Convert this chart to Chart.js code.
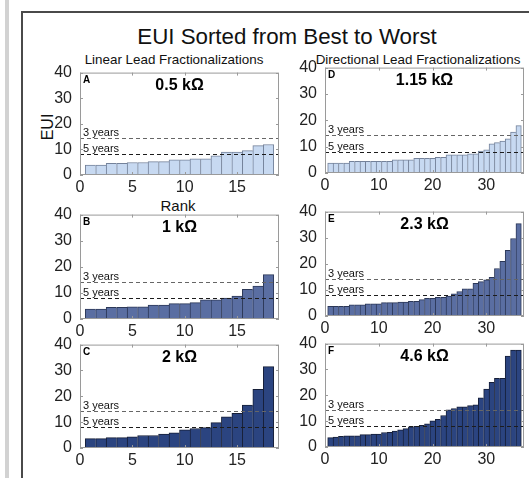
<!DOCTYPE html>
<html>
<head>
<meta charset="utf-8">
<script src="https://cdn.jsdelivr.net/npm/chart.js@4.4.1/dist/chart.umd.min.js"></script>
<style>
  html, body { margin: 0; padding: 0; background: #fff; width: 529px; height: 478px; overflow: hidden;
               font-family: "Liberation Sans", Arial, sans-serif; }
  #stripe { position: absolute; left: 5px; top: 0; width: 4px; height: 478px; background: #d2d2d2; }
  #frame { position: absolute; left: 21px; top: 11px; width: 560px; height: 520px;
           border: 2px solid #4a4a4a; box-sizing: border-box; }
  .txt { position: absolute; white-space: nowrap; color: #111; line-height: 1; }
  canvas { position: absolute; }
</style>
</head>
<body>
<div id="stripe"></div>
<div id="frame"></div>
<div class="txt" id="mainTitle" style="font-size:22.3px; left:287px; top:26px; transform:translateX(-50%);">EUI Sorted from Best to Worst</div>
<div class="txt" style="font-size:13.4px; left:174px; top:53px; transform:translateX(-50%);">Linear Lead Fractionalizations</div>
<div class="txt" style="font-size:13.4px; left:418px; top:53px; transform:translateX(-50%);">Directional Lead Fractionalizations</div>
<div class="txt" style="font-size:16px; left:48px; top:127px; transform:translate(-50%,-50%) rotate(-90deg);">EUI</div>
<div class="txt" style="font-size:15px; left:178px; top:205px; transform:translate(-50%,-50%);">Rank</div>

<script>
// EUI per lead, sorted from best (lowest) to worst (highest)
const euiLinear05 = [3.9, 3.9, 4.6, 4.6, 4.9, 4.9, 5.2, 5.2, 5.9, 5.9, 6.3, 6.3, 7.5, 9.0, 9.0, 9.5, 11.5, 11.9];
const euiLinear1  = [3.8, 3.8, 4.5, 4.5, 4.7, 4.7, 5.3, 5.3, 5.9, 5.9, 6.3, 7.3, 7.3, 8.0, 8.8, 11.4, 12.6, 17.0];
const euiLinear2  = [3.6, 3.6, 4.0, 4.0, 4.35, 4.85, 4.85, 5.4, 5.85, 7.0, 7.55, 7.9, 9.8, 12.1, 13.4, 16.6, 22.7, 31.5];
const euiDir115   = [3.8, 3.8, 3.8, 3.8, 4.4, 4.4, 4.4, 4.4, 4.4, 4.4, 4.4, 4.4, 5.0, 5.0, 5.0, 5.0, 5.6, 5.6,
                     5.6, 5.6, 5.9, 5.9, 6.9, 6.9, 6.9, 6.9, 7.3, 7.3, 8.3, 8.8, 11.1, 11.5, 12.1, 13.0, 15.5, 18.0];
const euiDir23    = [3.7, 3.7, 3.7, 3.7, 4.3, 4.3, 4.3, 4.7, 4.7, 4.7, 5.1, 5.1, 5.1, 5.3, 5.3, 5.6, 5.6, 6.3,
                     6.8, 6.8, 7.2, 7.2, 7.6, 8.5, 9.4, 10.4, 10.4, 12.5, 13.2, 13.9, 14.8, 18.2, 20.9, 25.2, 29.7, 35.4];
const euiDir46    = [3.6, 3.8, 4.1, 4.3, 4.3, 4.3, 4.8, 4.8, 5.0, 5.0, 5.6, 5.7, 6.2, 6.6, 7.1, 7.8, 8.0, 8.4,
                     9.0, 10.1, 10.7, 12.2, 14.4, 14.9, 15.5, 15.5, 16.0, 16.3, 19.0, 22.4, 25.0, 26.6, 26.6, 35.2, 37.5, 37.5];

// battery-life thresholds
const threeYearEUI = 14.3;
const fiveYearEUI  = 8.1;
const thresholdLabels = ['3 years', '5 years'];

const panelLetters = ['A', 'B', 'C', 'D', 'E', 'F'];
const panelTitles  = ['0.5 kΩ', '1 kΩ', '2 kΩ', '1.15 kΩ', '2.3 kΩ', '4.6 kΩ'];
const yTickValues  = [0, 10, 20, 30, 40];

const FONT = '"Liberation Sans", Arial, sans-serif';
const light  = { fill: '#c7d9f1', edge: '#74829a' };
const medium = { fill: '#5a6ea2', edge: '#2c3858' };
const dark   = { fill: '#2b4480', edge: '#161f38' };

const panels = [
  { data: euiLinear05, box: { l: 80,  t: 71,  r: 279, b: 175 }, step: 5,  col: light  },
  { data: euiLinear1,  box: { l: 80,  t: 213, r: 279, b: 319 }, step: 5,  col: medium },
  { data: euiLinear2,  box: { l: 80,  t: 343, r: 279, b: 448 }, step: 5,  col: dark   },
  { data: euiDir115,   box: { l: 325, t: 66,  r: 524, b: 173 }, step: 10, col: light  },
  { data: euiDir23,    box: { l: 325, t: 210, r: 524, b: 316 }, step: 10, col: medium },
  { data: euiDir46,    box: { l: 325, t: 342, r: 524, b: 447 }, step: 10, col: dark   }
];

// Threshold lines, labels, boxed axes with inward ticks, panel letter and title
const panelDecor = {
  id: 'panelDecor',
  afterDatasetsDraw(chart, args, opts) {
    const { ctx, chartArea: a, scales: { x, y } } = chart;
    ctx.save();

    [[threeYearEUI, '#666'], [fiveYearEUI, '#1c1c1c']].forEach(([v, c], k) => {
      const py = Math.round(y.getPixelForValue(v)) + 0.5;
      ctx.strokeStyle = c;
      ctx.lineWidth = 1;
      ctx.setLineDash([4, 3]);
      ctx.beginPath();
      ctx.moveTo(a.left, py);
      ctx.lineTo(a.right, py);
      ctx.stroke();
      ctx.setLineDash([]);
      ctx.fillStyle = '#111';
      ctx.font = '11px ' + FONT;
      ctx.textAlign = 'left';
      ctx.textBaseline = 'alphabetic';
      ctx.fillText(thresholdLabels[k], a.left + 3, py - 3);
    });

    ctx.strokeStyle = '#9a9a9a';
    ctx.lineWidth = 1;
    ctx.strokeRect(a.left + 0.5, a.top + 0.5, a.right - a.left - 1, a.bottom - a.top - 1);
    ctx.beginPath();
    x.ticks.forEach(t => {
      const px = Math.round(x.getPixelForValue(t.value)) + 0.5;
      ctx.moveTo(px, a.bottom); ctx.lineTo(px, a.bottom - 3);
      ctx.moveTo(px, a.top);    ctx.lineTo(px, a.top + 3);
    });
    y.ticks.forEach(t => {
      const py = Math.round(y.getPixelForValue(t.value)) + 0.5;
      ctx.moveTo(a.left, py);  ctx.lineTo(a.left + 3, py);
      ctx.moveTo(a.right, py); ctx.lineTo(a.right - 3, py);
    });
    ctx.stroke();

    ctx.fillStyle = '#000';
    ctx.textAlign = 'left';
    ctx.textBaseline = 'top';
    ctx.font = 'bold 10px ' + FONT;
    ctx.fillText(opts.letter, a.left + 3, a.top + 3);

    ctx.textAlign = 'center';
    ctx.textBaseline = 'middle';
    ctx.font = 'bold 16px ' + FONT;
    ctx.fillText(opts.title, (a.left + a.right) / 2, a.top + 13);
    ctx.restore();
  }
};

const padT = 16, padR = 6, yAxisW = 50, xAxisH = 30;

panels.forEach((p, i) => {
  const n = p.data.length;
  const w = (p.box.r - p.box.l) + yAxisW + padR;
  const h = (p.box.b - p.box.t) + padT + xAxisH;
  const cv = document.createElement('canvas');
  cv.width = w; cv.height = h;
  cv.style.left = (p.box.l - yAxisW) + 'px';
  cv.style.top = (p.box.t - padT) + 'px';
  cv.style.width = w + 'px';
  cv.style.height = h + 'px';
  document.body.appendChild(cv);

  new Chart(cv, {
    type: 'bar',
    data: {
      datasets: [{
        data: p.data.map((v, k) => ({ x: k + 1, y: v })),
        backgroundColor: p.col.fill,
        borderColor: p.col.edge,
        borderWidth: c => c.dataIndex === n - 1
          ? { top: 1, left: 1, right: 1, bottom: 0 }
          : { top: 1, left: 1, right: 0, bottom: 0 },
        borderSkipped: false,
        barPercentage: 1,
        categoryPercentage: 1
      }]
    },
    options: {
      responsive: false,
      animation: false,
      devicePixelRatio: 1,
      layout: { padding: { top: padT, right: padR, left: 0, bottom: 0 } },
      plugins: {
        legend: { display: false },
        tooltip: { enabled: false },
        panelDecor: { letter: panelLetters[i], title: panelTitles[i] }
      },
      scales: {
        x: {
          type: 'linear',
          offset: false,
          min: 0,
          max: n + 1,
          grid: { display: false, drawTicks: false, offset: false },
          border: { display: false },
          ticks: {
            stepSize: p.step, autoSkip: false, maxRotation: 0, padding: 3,
            color: '#222', font: { family: FONT, size: 16 }
          },
          afterBuildTicks: s => { s.ticks = s.ticks.filter(t => t.value % p.step === 0); },
          afterFit: s => { s.height = xAxisH; }
        },
        y: {
          min: 0,
          max: 40,
          grid: { display: false, drawTicks: false },
          border: { display: false },
          ticks: {
            stepSize: 10, padding: 8, color: '#222', font: { family: FONT, size: 16 }
          },
          afterBuildTicks: s => { s.ticks = yTickValues.map(v => ({ value: v })); },
          afterFit: s => { s.width = yAxisW; }
        }
      }
    },
    plugins: [panelDecor]
  });
});
</script>
</body>
</html>
